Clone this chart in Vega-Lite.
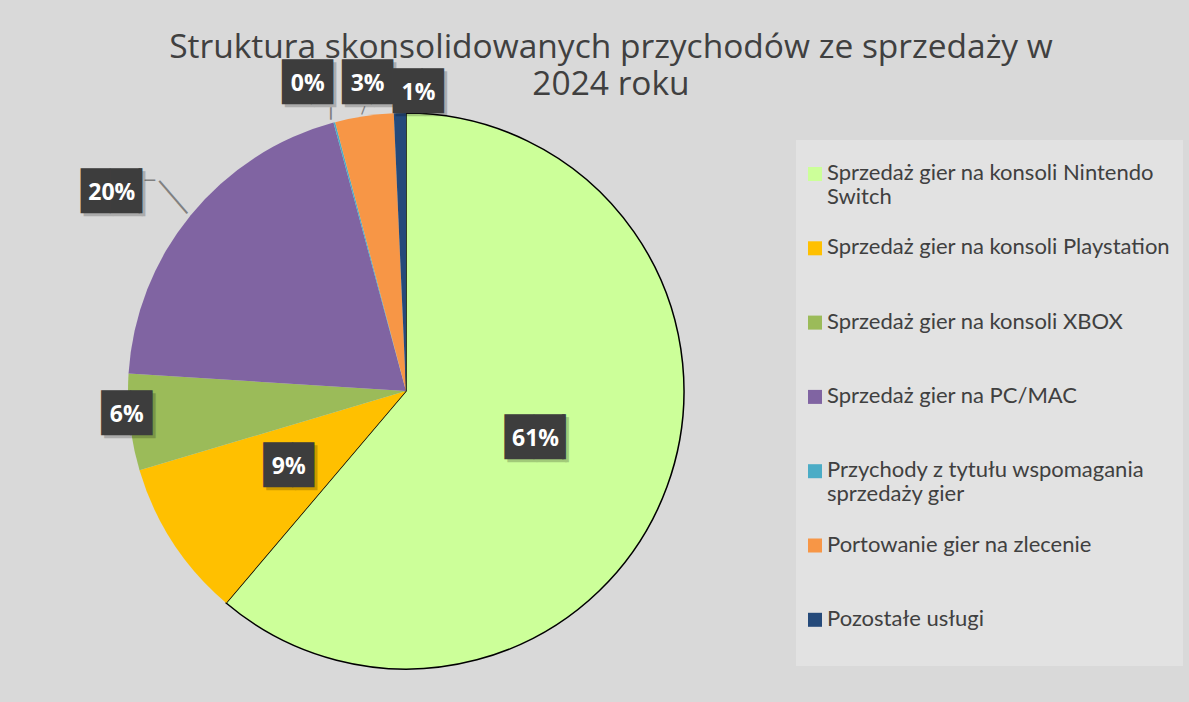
{
  "$schema": "https://vega.github.io/schema/vega-lite/v6.json",
  "width": 556,
  "height": 556,
  "autosize": {"type": "none"},
  "padding": {"left": 128, "top": 113, "right": 505, "bottom": 33},
  "background": "#d9d9d9",
  "config": {"view": {"stroke": null}},
  "title": {
    "text": ["Struktura skonsolidowanych przychodów ze sprzedaży w", "2024 roku"],
    "font": "Open Sans",
    "fontSize": 33.5,
    "fontWeight": 400,
    "color": "#404040",
    "anchor": "middle",
    "dx": 205,
    "offset": -38,
    "lineHeight": 37
  },
  "data": {
    "values": [
      {"cat": "Sprzedaż gier na konsoli Nintendo Switch", "ord": 0, "value": 0.612},
      {"cat": "Sprzedaż gier na konsoli Playstation", "ord": 1, "value": 0.092},
      {"cat": "Sprzedaż gier na konsoli XBOX", "ord": 2, "value": 0.056},
      {"cat": "Sprzedaż gier na PC/MAC", "ord": 3, "value": 0.198},
      {"cat": "Przychody z tytułu wspomagania sprzedaży gier", "ord": 4, "value": 0.001},
      {"cat": "Portowanie gier na zlecenie", "ord": 5, "value": 0.034},
      {"cat": "Pozostałe usługi", "ord": 6, "value": 0.007}
    ]
  },
  "encoding": {
    "theta": {"field": "value", "type": "quantitative", "stack": true},
    "order": {"field": "ord", "type": "quantitative"}
  },
  "layer": [
    {
      "mark": {"type": "arc", "strokeWidth": 1.5},
      "encoding": {
        "color": {
          "field": "cat",
          "type": "nominal",
          "scale": {
            "domain": [
              "Sprzedaż gier na konsoli Nintendo Switch",
              "Sprzedaż gier na konsoli Playstation",
              "Sprzedaż gier na konsoli XBOX",
              "Sprzedaż gier na PC/MAC",
              "Przychody z tytułu wspomagania sprzedaży gier",
              "Portowanie gier na zlecenie",
              "Pozostałe usługi"
            ],
            "range": ["#CCFF99", "#FFC000", "#9BBB59", "#8064A2", "#4BACC6", "#F79646", "#254A7A"]
          },
          "legend": {
            "title": null,
            "orient": "none",
            "legendX": 668,
            "legendY": 27,
            "padding": 12,
            "fillColor": "#e2e2e2",
            "symbolType": "M-11,4H3V18H-11Z",
            "symbolSize": 4,
            "symbolStrokeWidth": 1.5,
            "labelFont": "Lato",
            "labelFontSize": 22,
            "labelColor": "#404040",
            "labelBaseline": "top",
            "labelLimit": 450,
            "labelOffset": -3,
            "rowPadding": 18.3,
            "labelExpr": "datum.label == 'Sprzedaż gier na konsoli Nintendo Switch' ? ['Sprzedaż gier na konsoli Nintendo', 'Switch'] : datum.label == 'Przychody z tytułu wspomagania sprzedaży gier' ? ['Przychody z tytułu wspomagania', 'sprzedaży gier'] : [datum.label, ' ']"
          }
        },
        "stroke": {"condition": {"test": "datum.ord == 0", "value": "#000000"}, "value": null}
      }
    },
    {
      "mark": {
        "type": "text",
        "text": "─",
        "font": "DejaVu Sans",
        "align": "center",
        "baseline": "middle",
        "color": "#808080",
        "fontSize": {"expr": "[1,1,1,17,20,14,1][datum.ord]"},
        "angle": {"expr": "[0,0,0,0,90,110.9,0][datum.ord]"},
        "opacity": {"expr": "datum.ord >= 3 && datum.ord <= 5 ? 1 : 0"},
        "radius": {"expr": "[138,140,281,354,323,309,298][datum.ord]"},
        "dx": {"expr": "[0,0,0,18.1,34.6,22,0][datum.ord]"},
        "dy": {"expr": "[0,0,0,13.5,-7.3,-11.5,0][datum.ord]"}
      },
      "encoding": {"detail": {"field": "cat"}}
    },
    {
      "mark": {
        "type": "text",
        "text": "───",
        "font": "DejaVu Sans",
        "align": "center",
        "baseline": "middle",
        "color": "#808080",
        "fontSize": 23.6,
        "angle": 49.4,
        "opacity": {"expr": "datum.ord == 3 ? 1 : 0"},
        "radius": {"expr": "[138,140,281,354,323,309,298][datum.ord]"},
        "dx": 49.8,
        "dy": -10.8
      },
      "encoding": {"detail": {"field": "cat"}}
    },
    {
      "mark": {
        "type": "text",
        "font": "DejaVu Sans",
        "fontSize": 38,
        "align": "center",
        "baseline": "middle",
        "color": "#000000",
        "opacity": 0.2,
        "radius": {"expr": "[138,140,281,354,323,309,298][datum.ord]"},
        "dx": {"expr": "[0,0,0,-20,-15,8,19][datum.ord] + (datum.value >= 0.1 ? 12.7 : 3.6) + 3"},
        "dy": {"expr": "[0,0,-8,26,5,-1.5,0][datum.ord] + 3"}
      },
      "encoding": {
        "detail": {"field": "cat"},
        "text": {"condition": {"test": "datum.value >= 0.1", "value": "██▏"}, "value": "█▊"}
      }
    },
    {
      "mark": {
        "type": "text",
        "font": "DejaVu Sans",
        "fontSize": 38,
        "align": "center",
        "baseline": "middle",
        "color": "#3d3d3d",
        "radius": {"expr": "[138,140,281,354,323,309,298][datum.ord]"},
        "dx": {"expr": "[0,0,0,-20,-15,8,19][datum.ord] + (datum.value >= 0.1 ? 12.7 : 3.6)"},
        "dy": {"expr": "[0,0,-8,26,5,-1.5,0][datum.ord]"}
      },
      "encoding": {
        "detail": {"field": "cat"},
        "text": {"condition": {"test": "datum.value >= 0.1", "value": "██▏"}, "value": "█▊"}
      }
    },
    {
      "mark": {
        "type": "text",
        "font": "Open Sans",
        "fontWeight": "bold",
        "fontSize": 23,
        "align": "center",
        "baseline": "middle",
        "color": "#ffffff",
        "radius": {"expr": "[138,140,281,354,323,309,298][datum.ord]"},
        "dx": {"expr": "[0,0,0,-20,-15,8,19][datum.ord]"},
        "dy": {"expr": "[0,0,-8,26,5,-1.5,0][datum.ord]"}
      },
      "encoding": {
        "detail": {"field": "cat"},
        "text": {"field": "value", "type": "quantitative", "format": ".0%"}
      }
    }
  ]
}
